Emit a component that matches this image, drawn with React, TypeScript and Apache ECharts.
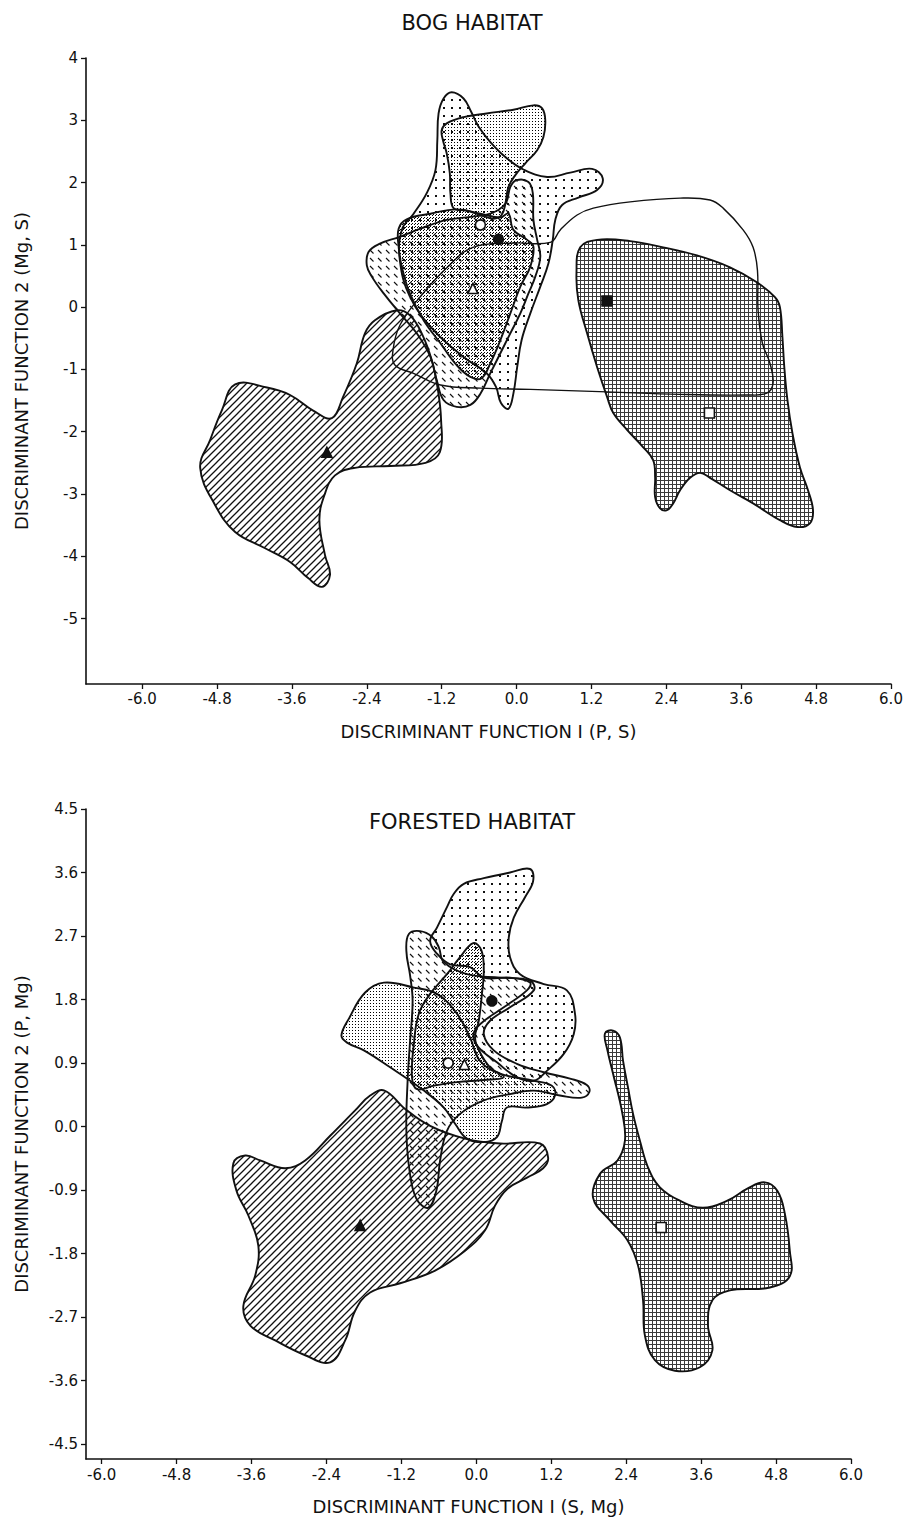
import React, { useEffect, useRef } from 'react';
import * as echarts from 'echarts';

type P = [number, number];

// ---------- axes ----------
const xTickValues = [-6.0, -4.8, -3.6, -2.4, -1.2, 0.0, 1.2, 2.4, 3.6, 4.8, 6.0];
const bogYTickValues = [-5, -4, -3, -2, -1, 0, 1, 2, 3, 4];
const forYTickValues = [-4.5, -3.6, -2.7, -1.8, -0.9, 0.0, 0.9, 1.8, 2.7, 3.6, 4.5];

// ---------- BOG HABITAT outlines (DF1, DF2) ----------
const bogLines: P[] = [
  [-4.51, -1.24], [-4.0, -1.29], [-3.63, -1.41], [-3.26, -1.66], [-2.96, -1.78], [-2.78, -1.44],
  [-2.56, -0.9], [-2.43, -0.42], [-2.27, -0.21], [-1.92, -0.05], [-1.71, -0.13], [-1.52, -0.42],
  [-1.36, -0.85], [-1.26, -1.33], [-1.21, -1.81], [-1.23, -2.33], [-1.46, -2.5], [-2.02, -2.55],
  [-2.59, -2.58], [-2.91, -2.7], [-3.08, -3.02], [-3.16, -3.42], [-3.07, -3.98], [-2.99, -4.3],
  [-3.12, -4.49], [-3.34, -4.35], [-3.63, -4.09], [-4.03, -3.87], [-4.51, -3.61], [-4.83, -3.18],
  [-5.07, -2.58], [-4.91, -2.13], [-4.72, -1.65],
];
const bogGrid: P[] = [
  [1.02, 0.96], [1.29, 1.08], [1.82, 1.06], [2.35, 0.96], [2.89, 0.83], [3.42, 0.64], [3.85, 0.4],
  [4.14, 0.16], [4.22, 0.0], [4.26, -0.48], [4.29, -0.96], [4.34, -1.49], [4.42, -2.02], [4.54, -2.57],
  [4.67, -2.94], [4.75, -3.26], [4.7, -3.47], [4.5, -3.53], [4.22, -3.42], [3.79, -3.15], [3.42, -2.94],
  [3.1, -2.74], [2.94, -2.66], [2.78, -2.74], [2.62, -2.94], [2.51, -3.15], [2.41, -3.26], [2.3, -3.23],
  [2.22, -3.05], [2.22, -2.73], [2.19, -2.46], [2.03, -2.25], [1.77, -1.97], [1.55, -1.7], [1.45, -1.44],
  [1.29, -0.96], [1.13, -0.42], [0.99, 0.11], [0.96, 0.55],
];
const bogOpen: P[] = [
  [0.54, 1.04], [0.7, 1.24], [0.97, 1.48], [1.23, 1.59], [1.82, 1.69], [2.62, 1.75], [3.1, 1.72],
  [3.31, 1.59], [3.63, 1.24], [3.79, 0.96], [3.86, 0.59], [3.87, -0.05], [3.94, -0.58], [4.06, -0.9],
  [4.11, -1.22], [4.01, -1.38], [3.69, -1.41], [2.62, -1.4], [1.45, -1.36], [0.22, -1.32], [-0.58, -1.3],
  [-1.22, -1.25], [-1.66, -1.06], [-1.95, -0.93], [-1.98, -0.69], [-1.87, -0.29], [-1.55, 0.16],
  [-1.11, 0.64], [-0.7, 0.96], [-0.05, 1.03],
];
const bogDots: P[] = [
  [-1.04, 3.45], [-0.85, 3.35], [-0.73, 3.14], [-0.61, 2.9], [-0.42, 2.65], [-0.18, 2.41], [0.11, 2.21],
  [0.49, 2.09], [0.86, 2.16], [1.21, 2.22], [1.38, 2.07], [1.29, 1.88], [0.99, 1.76], [0.73, 1.64],
  [0.62, 1.4], [0.58, 1.08], [0.51, 0.7], [0.38, 0.33], [0.22, -0.1], [0.08, -0.53], [0.01, -0.96],
  [-0.05, -1.38], [-0.13, -1.63], [-0.25, -1.54], [-0.33, -1.28], [-0.48, -1.06], [-0.85, -0.8],
  [-1.33, -0.37], [-1.71, 0.17], [-1.87, 0.75], [-1.84, 1.24], [-1.65, 1.5], [-1.44, 1.83], [-1.3, 2.2],
  [-1.27, 2.68], [-1.25, 3.11], [-1.17, 3.35],
];
const bogStippleTop: P[] = [
  [-1.2, 2.84], [-1.12, 2.95], [-0.85, 3.05], [-0.48, 3.11], [-0.05, 3.17], [0.27, 3.24], [0.41, 3.19],
  [0.46, 3.0], [0.43, 2.73], [0.33, 2.52], [0.14, 2.31], [-0.02, 2.12], [-0.13, 1.93], [-0.18, 1.66],
  [-0.24, 1.48], [-0.37, 1.42], [-0.58, 1.48], [-0.8, 1.55], [-1.01, 1.59], [-1.06, 1.83], [-1.07, 2.15],
  [-1.12, 2.47], [-1.18, 2.68],
];
const bogStippleMid: P[] = [
  [-1.89, 1.26], [-1.76, 1.41], [-1.38, 1.5], [-0.96, 1.57], [-0.58, 1.5], [-0.26, 1.44], [-0.13, 1.5],
  [-0.05, 1.24], [0.17, 1.08], [0.27, 0.97], [0.22, 0.65], [0.06, 0.33], [-0.1, -0.1], [-0.26, -0.53],
  [-0.42, -0.9], [-0.56, -1.14], [-0.74, -1.12], [-0.96, -0.93], [-1.22, -0.58], [-1.49, -0.21],
  [-1.71, 0.22], [-1.84, 0.65], [-1.89, 0.97],
];
const bogDashes: P[] = [
  [-2.37, 0.89], [-2.19, 1.02], [-1.87, 1.13], [-1.54, 1.26], [-1.12, 1.4], [-0.74, 1.45], [-0.42, 1.5],
  [-0.18, 1.66], [-0.1, 1.93], [0.0, 2.04], [0.19, 2.01], [0.26, 1.83], [0.27, 1.4], [0.33, 1.08],
  [0.38, 0.81], [0.3, 0.49], [0.19, 0.22], [0.06, -0.1], [-0.1, -0.42], [-0.26, -0.74], [-0.42, -1.06],
  [-0.58, -1.39], [-0.74, -1.57], [-0.96, -1.6], [-1.17, -1.49], [-1.28, -1.17], [-1.38, -0.8],
  [-1.6, -0.42], [-1.87, -0.1], [-2.13, 0.22], [-2.32, 0.49], [-2.4, 0.67],
];
const bogOpenCircle: P[] = [[-0.58, 1.32]];
const bogFilledCircle: P[] = [[-0.29, 1.09]];
const bogOpenTriangle: P[] = [[-0.7, 0.3]];
const bogFilledTriangle: P[] = [[-3.04, -2.33]];
const bogFilledSquare: P[] = [[1.45, 0.1]];
const bogOpenSquare: P[] = [[3.09, -1.7]];

// ---------- FORESTED HABITAT outlines (DF1, DF2) ----------
const forDots: P[] = [
  [-0.2, 3.44], [0.12, 3.52], [0.54, 3.6], [0.86, 3.65], [0.91, 3.48], [0.78, 3.25], [0.6, 2.96],
  [0.52, 2.68], [0.54, 2.4], [0.7, 2.16], [1.08, 2.02], [1.45, 1.93], [1.58, 1.6], [1.56, 1.31],
  [1.4, 1.03], [1.13, 0.79], [0.92, 0.65], [0.65, 0.7], [0.33, 0.91], [0.04, 1.12], [-0.05, 1.29],
  [0.06, 1.45], [0.44, 1.69], [0.81, 1.93], [0.86, 2.04], [0.54, 2.11], [0.12, 2.11], [-0.1, 2.26],
  [-0.42, 2.3], [-0.63, 2.45], [-0.74, 2.63], [-0.63, 2.82], [-0.47, 3.11], [-0.36, 3.3],
];
const forDashes: P[] = [
  [-1.08, 2.73], [-0.9, 2.77], [-0.71, 2.69], [-0.6, 2.54], [-0.52, 2.33], [-0.15, 2.16], [0.38, 2.11],
  [0.86, 2.07], [0.92, 1.93], [0.54, 1.69], [0.22, 1.5], [0.12, 1.31], [0.28, 1.08], [0.65, 0.89],
  [1.08, 0.77], [1.5, 0.68], [1.77, 0.59], [1.81, 0.49], [1.69, 0.41], [1.34, 0.44], [0.92, 0.51],
  [0.54, 0.46], [0.12, 0.37], [-0.26, 0.18], [-0.47, -0.06], [-0.58, -0.48], [-0.64, -0.91],
  [-0.77, -1.15], [-0.96, -1.02], [-1.07, -0.62], [-1.12, -0.06], [-1.1, 0.65], [-1.06, 1.22],
  [-1.02, 1.78], [-1.06, 2.14], [-1.12, 2.49],
];
const forDense: P[] = [
  [-0.05, 2.6], [0.08, 2.5], [0.12, 2.21], [0.09, 1.88], [0.04, 1.5], [-0.02, 1.26], [0.06, 1.05],
  [0.22, 0.84], [0.44, 0.7], [0.12, 0.66], [-0.31, 0.63], [-0.68, 0.58], [-0.95, 0.53], [-1.03, 0.7],
  [-1.0, 1.17], [-0.92, 1.6], [-0.74, 1.88], [-0.47, 2.16], [-0.26, 2.4],
];
const forStipple: P[] = [
  [-2.16, 1.29], [-2.04, 1.53], [-1.78, 1.9], [-1.48, 2.04], [-1.0, 1.97], [-0.63, 1.88], [-0.31, 1.6],
  [-0.1, 1.26], [0.06, 0.93], [0.38, 0.75], [0.92, 0.65], [1.21, 0.58], [1.26, 0.44], [1.13, 0.32],
  [0.81, 0.27], [0.49, 0.27], [0.41, 0.08], [0.33, -0.15], [0.12, -0.22], [-0.15, -0.17], [-0.34, 0.04],
  [-0.52, 0.27], [-0.84, 0.51], [-1.38, 0.84], [-1.8, 1.08], [-2.07, 1.19],
];
const forLines: P[] = [
  [-1.47, 0.51], [-1.14, 0.25], [-0.74, 0.01], [-0.18, -0.17], [0.38, -0.24], [1.02, -0.24], [1.15, -0.44],
  [1.07, -0.59], [0.82, -0.72], [0.5, -0.88], [0.3, -1.12], [0.14, -1.47], [-0.18, -1.76], [-0.66, -2.04],
  [-1.22, -2.22], [-1.7, -2.35], [-1.94, -2.61], [-2.1, -3.03], [-2.34, -3.34], [-2.74, -3.24],
  [-3.22, -3.03], [-3.62, -2.82], [-3.73, -2.54], [-3.54, -2.11], [-3.49, -1.69], [-3.65, -1.26],
  [-3.84, -0.91], [-3.89, -0.52], [-3.7, -0.41], [-3.46, -0.48], [-3.06, -0.59], [-2.74, -0.48],
  [-2.34, -0.13], [-1.94, 0.23], [-1.7, 0.44],
];
const forGrid: P[] = [
  [2.06, 1.32], [2.19, 1.36], [2.3, 1.26], [2.35, 0.93], [2.43, 0.55], [2.51, 0.18], [2.62, -0.2],
  [2.75, -0.58], [2.94, -0.86], [3.26, -1.05], [3.63, -1.15], [4.02, -1.05], [4.34, -0.88], [4.62, -0.79],
  [4.82, -0.91], [4.94, -1.23], [5.02, -1.76], [5.02, -2.12], [4.7, -2.28], [4.06, -2.32], [3.78, -2.46],
  [3.71, -2.82], [3.78, -3.17], [3.58, -3.41], [3.18, -3.46], [2.86, -3.31], [2.7, -2.96], [2.67, -2.46],
  [2.59, -1.97], [2.42, -1.61], [2.14, -1.33], [1.87, -1.01], [1.98, -0.67], [2.26, -0.48], [2.38, -0.2],
  [2.34, 0.18], [2.19, 0.75], [2.1, 1.08],
];
const forFilledCircle: P[] = [[0.25, 1.78]];
const forOpenCircle: P[] = [[-0.45, 0.9]];
const forOpenTriangle: P[] = [[-0.19, 0.88]];
const forFilledTriangle: P[] = [[-1.86, -1.4]];
const forOpenSquare: P[] = [[2.96, -1.43]];

const FONT = 'DejaVu Sans';
const INK = '#111';

function tile(size: number, draw: (c: CanvasRenderingContext2D) => void) {
  const cv = document.createElement('canvas');
  cv.width = size;
  cv.height = size;
  const ctx = cv.getContext('2d') as CanvasRenderingContext2D;
  draw(ctx);
  return { image: cv, repeat: 'repeat', imageWidth: size, imageHeight: size };
}

function makePatterns() {
  const dots = tile(8, (c) => {
    c.fillStyle = INK;
    c.fillRect(3, 3, 2, 2);
  });
  const stipple = tile(3, (c) => {
    c.fillStyle = '#000';
    c.fillRect(1, 1, 1, 1);
  });
  const dense = tile(3, (c) => {
    c.fillStyle = '#000';
    c.fillRect(1, 1, 1, 1);
    c.fillRect(0, 2, 1, 1);
  });
  const lines = tile(7, (c) => {
    c.strokeStyle = INK;
    c.lineWidth = 1.3;
    c.beginPath();
    c.moveTo(-1, 8); c.lineTo(8, -1);
    c.moveTo(-1, 1); c.lineTo(1, -1);
    c.moveTo(6, 8); c.lineTo(8, 6);
    c.stroke();
  });
  const dashes = tile(8, (c) => {
    c.strokeStyle = INK;
    c.lineWidth = 1.1;
    c.beginPath();
    c.moveTo(2, 2); c.lineTo(5.5, 5.5);
    c.stroke();
  });
  const grid = tile(4, (c) => {
    c.fillStyle = '#3a3a3a';
    c.fillRect(0, 0, 4, 1);
    c.fillRect(0, 0, 1, 4);
  });
  return { dots, stipple, dense, lines, dashes, grid };
}

function shapeSeries(pts: P[], fill: any, gi: number, z: number, lw = 1.9) {
  return {
    type: 'custom',
    coordinateSystem: 'cartesian2d',
    xAxisIndex: gi,
    yAxisIndex: gi,
    data: [pts[0]],
    silent: true,
    clip: false,
    z,
    renderItem: (_p: any, api: any) => ({
      type: 'polygon',
      shape: { points: pts.map((p) => api.coord(p)), smooth: 0.4 },
      style: { fill, stroke: INK, lineWidth: lw },
    }),
  };
}

function markerSeries(data: P[], gi: number, symbol: string, filled: boolean, size: number) {
  return {
    type: 'scatter',
    xAxisIndex: gi,
    yAxisIndex: gi,
    data,
    symbol,
    symbolSize: size,
    silent: true,
    z: 10,
    itemStyle: { color: filled ? INK : '#fff', borderColor: INK, borderWidth: 1.6, opacity: 1 },
  };
}

function xAxisCfg(gi: number, min: number, max: number, name: string, nameGap: number, margin: number) {
  return {
    type: 'value', gridIndex: gi, min, max, name, nameLocation: 'middle', nameGap,
    nameTextStyle: { fontFamily: FONT, fontSize: 18, color: INK },
    axisLine: { show: true, onZero: false, lineStyle: { color: INK, width: 1.6 } },
    axisTick: { show: true, customValues: xTickValues, length: 5, lineStyle: { color: INK, width: 1.3 } },
    axisLabel: { show: true, customValues: xTickValues, margin, fontFamily: FONT, fontSize: 15, color: INK,
      formatter: (v: number) => v.toFixed(1) },
    splitLine: { show: false },
  };
}

function yAxisCfg(gi: number, min: number, max: number, ticks: number[], name: string, digits: number) {
  return {
    type: 'value', gridIndex: gi, min, max, name, nameLocation: 'middle', nameGap: 56,
    nameTextStyle: { fontFamily: FONT, fontSize: 18, color: INK },
    axisLine: { show: true, onZero: false, lineStyle: { color: INK, width: 1.6 } },
    axisTick: { show: true, customValues: ticks, length: 5, lineStyle: { color: INK, width: 1.3 } },
    axisLabel: { show: true, customValues: ticks, margin: 8, fontFamily: FONT, fontSize: 15, color: INK,
      formatter: (v: number) => v.toFixed(digits) },
    splitLine: { show: false },
  };
}

export default function App() {
  const ref = useRef<HTMLDivElement>(null);
  useEffect(() => {
    if (!ref.current) return;
    const chart = echarts.init(ref.current, undefined, { renderer: 'svg' });
    const pt = makePatterns();
    chart.setOption({
      animation: false,
      backgroundColor: '#fff',
      grid: [
        { left: 86, top: 58, width: 805, height: 626, outerBoundsMode: 'none' },
        { left: 86, top: 809, width: 765, height: 650, outerBoundsMode: 'none' },
      ],
      xAxis: [
        xAxisCfg(0, -6.9, 6.0, 'DISCRIMINANT FUNCTION I (P, S)', 38, 7),
        xAxisCfg(1, -6.25, 6.0, 'DISCRIMINANT FUNCTION I (S, Mg)', 38, 8),
      ],
      yAxis: [
        yAxisCfg(0, -6.05, 4, bogYTickValues, 'DISCRIMINANT FUNCTION 2 (Mg, S)', 0),
        yAxisCfg(1, -4.71, 4.5, forYTickValues, 'DISCRIMINANT FUNCTION 2 (P, Mg)', 1),
      ],
      graphic: [
        { type: 'text', x: 472, y: 23, style: { text: 'BOG HABITAT', fontFamily: FONT, fontSize: 21, fill: INK, align: 'center', verticalAlign: 'middle' } },
        { type: 'text', x: 472, y: 822, style: { text: 'FORESTED HABITAT', fontFamily: FONT, fontSize: 21, fill: INK, align: 'center', verticalAlign: 'middle' } },
      ],
      series: [
        shapeSeries(bogLines, pt.lines, 0, 2),
        shapeSeries(bogGrid, pt.grid, 0, 2),
        shapeSeries(bogOpen, 'none', 0, 3, 1.4),
        shapeSeries(bogDots, pt.dots, 0, 3),
        shapeSeries(bogDashes, pt.dashes, 0, 4),
        shapeSeries(bogStippleMid, pt.dense, 0, 4),
        shapeSeries(bogStippleTop, pt.stipple, 0, 5),
        markerSeries(bogOpenCircle, 0, 'circle', false, 10),
        markerSeries(bogFilledCircle, 0, 'circle', true, 10),
        markerSeries(bogOpenTriangle, 0, 'triangle', false, 10),
        markerSeries(bogFilledTriangle, 0, 'triangle', true, 10),
        markerSeries(bogFilledSquare, 0, 'rect', true, 10),
        markerSeries(bogOpenSquare, 0, 'rect', false, 10),

        shapeSeries(forLines, pt.lines, 1, 2),
        shapeSeries(forGrid, pt.grid, 1, 2),
        shapeSeries(forStipple, pt.stipple, 1, 3),
        shapeSeries(forDots, pt.dots, 1, 3),
        shapeSeries(forDashes, pt.dashes, 1, 4),
        shapeSeries(forDense, pt.dense, 1, 4),
        markerSeries(forFilledCircle, 1, 'circle', true, 10),
        markerSeries(forOpenCircle, 1, 'circle', false, 10),
        markerSeries(forOpenTriangle, 1, 'triangle', false, 10),
        markerSeries(forFilledTriangle, 1, 'triangle', true, 10),
        markerSeries(forOpenSquare, 1, 'rect', false, 10),
      ],
    });
    return () => chart.dispose();
  }, []);
  return (
    <div
      ref={ref}
      style={{ position: 'absolute', left: 0, top: 0, width: 907, height: 1525, background: '#fff' }}
    />
  );
}
